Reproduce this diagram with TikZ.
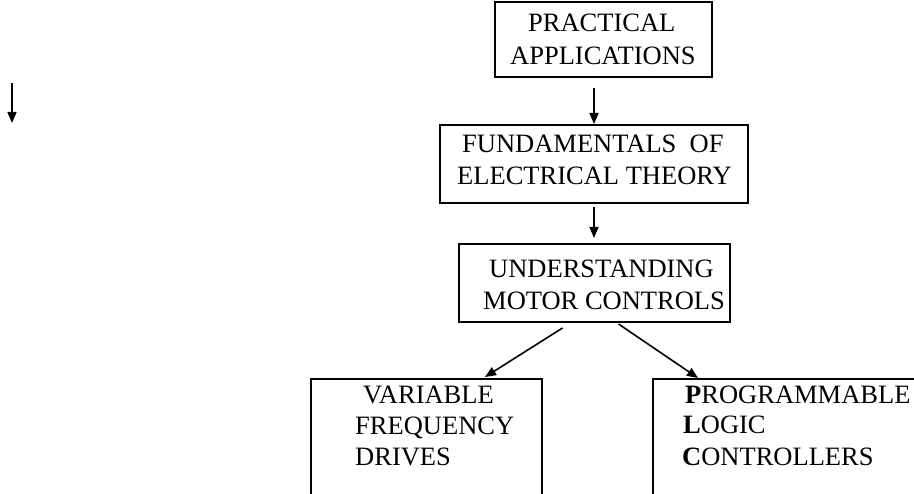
\documentclass[tikz,border=0pt]{standalone}
\usepackage{fontspec}
\setmainfont{Liberation Serif}
\usetikzlibrary{arrows.meta,calc}
\begin{document}
\begin{tikzpicture}[x=1pt,y=-1pt,
 box/.style={draw, line width=2pt, rectangle, inner sep=0pt, outer sep=0pt, anchor=north west},
 lbl/.style={inner sep=0pt, anchor=base west, font=\fontsize{26.5}{31}\selectfont},
 arr/.style={line width=1.6pt, -{Triangle[length=11pt,width=9pt]}}]
\useasboundingbox (0,0) rectangle (914,494);
\clip (0,0) rectangle (914,494);
% boxes
\node[box, minimum width=217pt, minimum height=75pt] (b1) at (495,2) {};
\node[box, minimum width=308pt, minimum height=78pt] (b2) at (440,125) {};
\node[box, minimum width=271pt, minimum height=78pt] (b3) at (459,244) {};
\node[box, minimum width=231pt, minimum height=116pt] (b4) at (311,379) {};
\node[box, minimum width=300pt, minimum height=116pt] (b5) at (653,379) {};
% texts
\node[lbl] (t1a) at (528,32) {PRACTICAL};
\node[lbl] (t1b) at (510,65) {APPLICATIONS};
\node[lbl] (t2a) at (462,153) {FUNDAMENTALS\ \ OF};
\node[lbl] (t2b) at (457,185) {ELECTRICAL THEORY};
\node[lbl] (t3a) at (489,278) {UNDERSTANDING};
\node[lbl] (t3b) at (483,310) {MOTOR CONTROLS};
\node[lbl] (t4a) at (363,404) {VARIABLE};
\node[lbl] (t4b) at (355,435) {FREQUENCY};
\node[lbl] (t4c) at (355,466) {DRIVES};
\node[lbl] (t5a) at (685,404) {\textbf{P}ROGRAMMABLE};
\node[lbl] (t5b) at (683,434) {\textbf{L}OGIC};
\node[lbl] (t5c) at (682,466) {\textbf{C}ONTROLLERS};
% connectors
\coordinate (col) at (594,0);
\draw[arr, shorten <=11pt, shorten >=1pt] (b1.south -| col) -- (b2.north -| col);
\draw[arr, shorten <=4pt, shorten >=6pt] (b2.south -| col) -- (b3.north -| col);
\draw[arr] ($(b3.south)+(-32,6)$) -- ($(b4.north west)+(174,-2)$);
\draw[arr] ($(b3.south)+(24,2)$) -- ($(b5.north west)+(45,-1)$);
% stray arrow
\coordinate (s1) at (12,83);
\coordinate (s2) at (12,123);
\draw[arr] (s1) -- (s2);
\end{tikzpicture}
\end{document}
